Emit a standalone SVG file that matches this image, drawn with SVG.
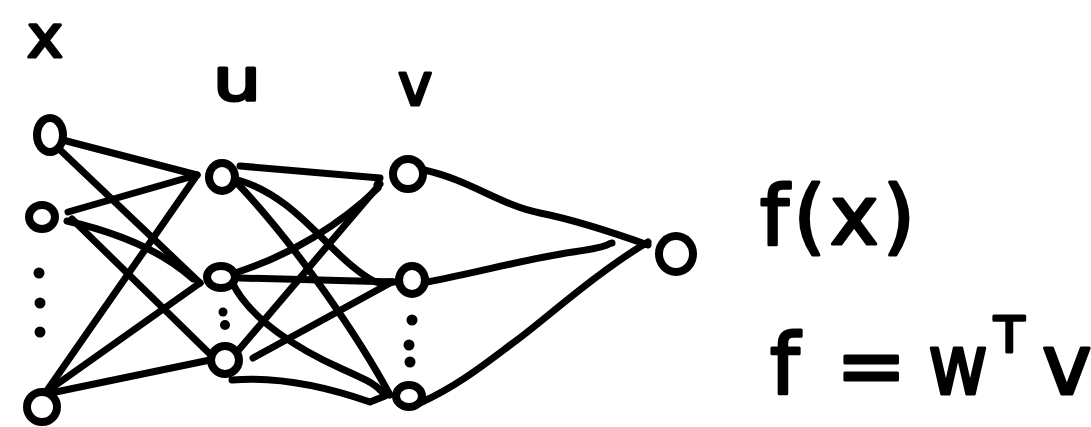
<svg xmlns="http://www.w3.org/2000/svg" width="1091" height="427" viewBox="0 0 1091 427">
<style>
.n{fill:#fff;stroke:#000;stroke-width:8}
.d{fill:#000}
.c{fill:none;stroke:#000;stroke-width:7;stroke-linecap:round;stroke-linejoin:round}
.t{font-family:"DejaVu Sans","Liberation Sans",sans-serif;fill:#000;stroke:#000;stroke-width:3;stroke-linejoin:round}
</style>
<rect width="1091" height="427" fill="#fff"/>
<g id="connectors" class="c">
<path d="M55,138 L197,175"/>
<path d="M56,146 L200,283"/>
<path d="M68,212 L197,175"/>
<path d="M67,221 Q150,240 193,279"/>
<path d="M72,219 L213,357"/>
<path d="M46,392 L197,175"/>
<path d="M46,392 L200,283"/>
<path d="M46,394 L210,360"/>
<path d="M240,166 L380,178 L377,185"/>
<path d="M238,180 C290,195 320,240 352,266 S380,280 392,282"/>
<path d="M238,184 C300,250 360,340 390,395"/>
<path d="M238,272 C290,255 340,225 378,188"/>
<path d="M240,278 L395,282"/>
<path d="M232,282 C250,320 300,350 340,368 S375,385 385,395"/>
<path d="M237,352 L380,184"/>
<path d="M253,358 L392,282"/>
<path d="M232,380 C280,376 330,388 370,402 L385,396"/>
<path d="M424,170 C470,180 500,205 540,213 S620,235 648,245"/>
<path d="M427,282 C480,272 530,258 573,252 S605,244 612,243"/>
<path d="M420,403 C460,385 490,360 517,340 S600,270 648,242"/>
</g>
<g id="x1"><ellipse class="n" cx="50" cy="135" rx="13" ry="17"/></g>
<g id="x2"><ellipse class="n" cx="42" cy="217" rx="13" ry="12"/></g>
<g id="x-dots"><circle class="d" cx="39" cy="273" r="5.5"/><circle class="d" cx="40" cy="303" r="5.5"/><circle class="d" cx="40" cy="332" r="5.5"/></g>
<g id="x3"><ellipse class="n" cx="42" cy="407" rx="15" ry="15"/></g>
<g id="u1"><ellipse class="n" cx="222" cy="177" rx="13" ry="14"/></g>
<g id="u2"><ellipse class="n" cx="221" cy="277" rx="14" ry="11"/></g>
<g id="u-dots"><circle class="d" cx="223" cy="312" r="4.5"/><circle class="d" cx="225" cy="325" r="5"/></g>
<g id="u3"><ellipse class="n" cx="225" cy="360" rx="14" ry="14"/></g>
<g id="v1"><ellipse class="n" cx="408" cy="174" rx="15" ry="15"/></g>
<g id="v2"><ellipse class="n" cx="412" cy="280" rx="13" ry="14"/></g>
<g id="v-dots"><circle class="d" cx="412" cy="320" r="5.5"/><circle class="d" cx="409" cy="345" r="5.5"/><circle class="d" cx="410" cy="362" r="5.5"/></g>
<g id="v3"><ellipse class="n" cx="409" cy="396" rx="13" ry="11"/></g>
<g id="out"><ellipse class="n" cx="676" cy="254" rx="17" ry="18"/></g>
<g id="labels">
<text class="t" x="27" y="57" font-size="58" textLength="36" lengthAdjust="spacingAndGlyphs">x</text>
<text class="t" x="213" y="100" font-size="58" textLength="48" lengthAdjust="spacingAndGlyphs">u</text>
<text class="t" x="398" y="105" font-size="58">v</text>
<text class="t" x="760" y="244" font-size="82" textLength="155" lengthAdjust="spacing">f(x)</text>
<text class="t" font-size="84"><tspan x="770" y="394">f</tspan><tspan x="836" y="394">=</tspan><tspan x="928" y="394" textLength="60" lengthAdjust="spacingAndGlyphs">w</tspan><tspan x="994" y="352" font-size="50">T</tspan><tspan x="1042" y="394">v</tspan></text>
</g>
</svg>
